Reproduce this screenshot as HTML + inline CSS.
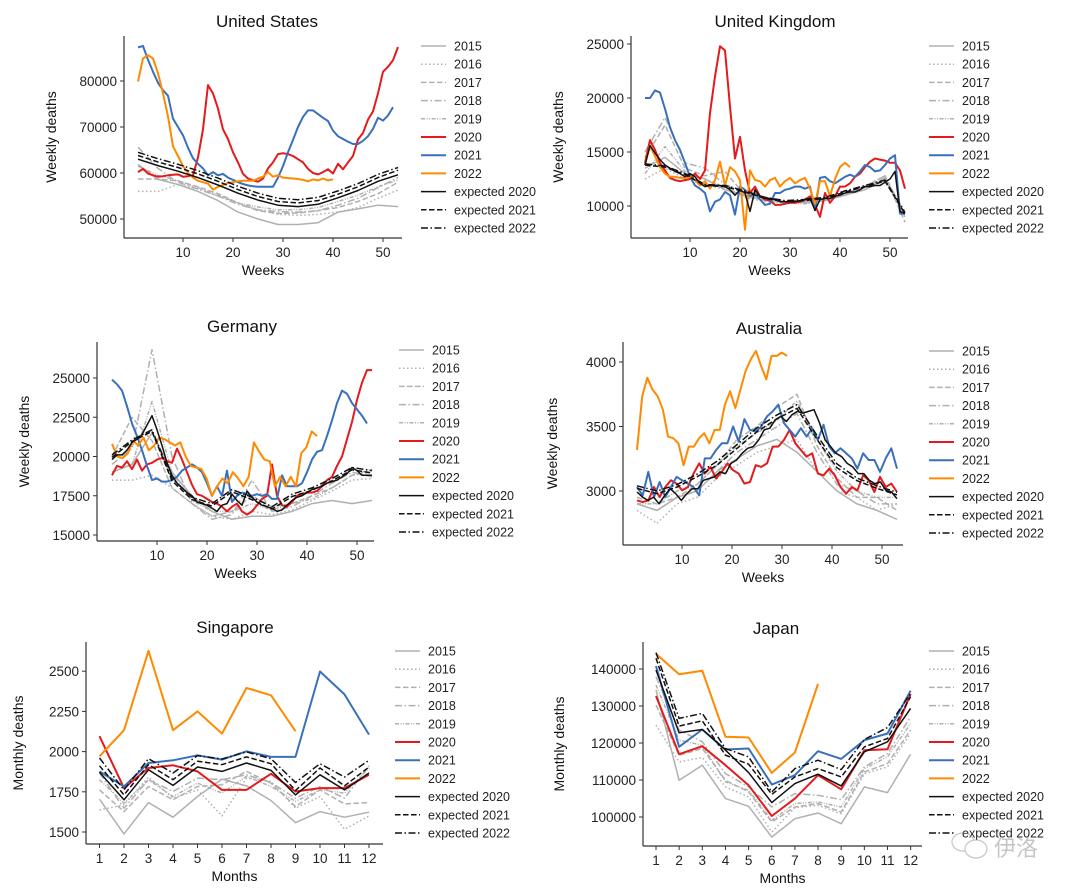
<!DOCTYPE html>
<html><head><meta charset="utf-8">
<style>
html,body{margin:0;padding:0;background:#fff;}
svg{display:block;font-family:"Liberation Sans","Noto Sans CJK SC",sans-serif;}
</style></head>
<body>
<svg id="fig" width="1080" height="895" viewBox="0 0 1080 895" xmlns="http://www.w3.org/2000/svg"></svg>
<script>
// ---------- shared ----------
const legendLabels = ['2015','2016','2017','2018','2019','2020','2021','2022','expected 2020','expected 2021','expected 2022'];
const monthTicks = [1,2,3,4,5,6,7,8,9,10,11,12];
const weekTicks = [10,20,30,40,50];

// ---------- United States (weekly) ----------
const usTicks = [50000,60000,70000,80000];
const us2015 = [61900,58600,57500,56000,54000,51500,50000,48800,48800,49200,51500,52200,53000,52700];
const us2016 = [56000,56000,57500,56500,55000,53500,52000,51000,50800,51000,51500,52500,54500,56300];
const us2017 = [58700,58700,58300,57000,55500,53500,51800,51200,51300,51800,52500,53800,55500,58000];
const us2018 = [65600,61000,58000,56500,55000,53200,52000,51600,51500,51800,53000,54500,56800,59000];
const us2019 = [61500,59500,58300,56800,55200,53500,52600,52000,52000,52500,53800,55200,57000,58500];
const us2020 = [60200,60900,59900,59500,59200,59300,59500,59600,59700,59200,59300,59500,63400,69500,79100,77300,74000,69500,67400,64500,62300,59800,58800,58400,58100,58800,61000,62300,64100,64300,64100,63700,63000,62300,60900,60000,59700,60200,60800,59900,62000,60800,62300,63700,67300,68700,71600,73400,77300,82000,83100,84500,87400];
const us2021 = [87300,87600,84600,82000,79600,78000,76800,71800,70000,68200,65500,63200,62000,61000,59500,60200,59500,59800,59000,58500,58000,57600,57300,57100,57000,57000,57000,57000,59000,61500,64500,67200,70000,72200,73600,73600,72800,72000,71300,69200,68000,67400,66800,66300,66300,67000,68000,69600,72000,71400,72500,74300];
const us2022 = [79900,84900,85600,84900,81700,77300,72300,65800,63700,61500,60000,59000,58300,58000,57700,56400,57000,57400,57800,58000,58200,58300,58300,58300,58800,59200,60200,59200,59500,59000,58900,58800,58700,58500,58200,58600,58400,58800,58400,58600];
const usExp2020 = [63000,61600,60400,59000,57400,55600,54100,53000,52700,53200,54600,56200,58200,59600];
const usExp2021 = [63800,62400,61200,59800,58200,56400,54900,53800,53500,54000,55400,57000,59000,60600];
const usExp2022 = [64500,63100,61900,60500,58900,57100,55600,54500,54200,54700,56100,57700,59700,61200];

// ---------- United Kingdom ----------
const ukTicks = [10000,15000,20000,25000];
const uk2015 = [13500,14500,13000,12500,11500,11000,10500,10400,10300,10500,11000,11500,12500,9000];
const uk2016 = [12500,13500,12500,12000,11500,10800,10400,10300,10300,10500,11000,11800,12500,9500];
const uk2017 = [14500,17500,13500,12800,13200,11000,10600,10400,10500,10600,11200,11800,12800,8500];
const uk2018 = [15000,18200,14000,13500,12000,11200,10800,10400,10400,10600,11000,11700,12600,9000];
const uk2019 = [13000,15500,13200,12500,11700,10900,10500,10300,10200,10500,11000,11800,12800,9200];
const uk2020 = [14000,16100,15200,14000,13300,12600,12400,12300,12400,12500,13000,12500,13300,18600,22000,24800,24400,19200,14400,16400,13300,11200,11800,10900,10600,10500,10100,10100,10200,10300,10300,10400,10600,10900,10100,9000,11200,10300,10900,11800,11800,12100,12700,13000,13600,14100,14400,14300,14200,14000,14000,13300,11600];
const uk2021 = [20000,20000,20700,20500,19000,17300,16100,15200,14000,12700,11900,11600,11200,9500,10400,10600,11300,11000,9200,11800,11500,10900,11200,10600,10100,10200,11200,11200,11500,11600,11800,11800,11600,11800,9600,12600,12700,12300,12100,12400,12700,12900,12700,13200,13800,13600,13200,13300,13800,14400,14700,9300,9300];
const uk2022 = [13800,15600,14600,13600,13000,12700,12700,12600,12600,12700,12400,11900,12300,11600,12400,14100,11900,13600,13200,12400,7800,13300,12400,12300,11800,12400,12600,11800,12300,12600,12100,12400,12600,11600,10200,12300,12300,10900,12500,13600,14000,13600];
const ukExp2020 = [13800,15600,14900,14300,13800,13500,13200,13000,12700,13000,12700,12100,11800,11900,11900,11900,11800,11500,11000,11500,11200,9500,11500,10900,10700,10700,10600,10400,10400,10400,10400,10500,10600,10700,9600,10600,10700,10700,10900,11000,11200,11300,11300,11500,11800,11800,11900,11900,12200,12500,13200,9500,9300];
const ukExp2021 = [13800,13600,12900,11900,11800,11300,10700,10400,10500,10700,11300,11800,12300,9300];
const ukExp2022 = [13900,13700,13000,12000,11900,11400,10800,10500,10600,10800,11400,11900,12400,9400];

// ---------- Germany ----------
const deTicks = [15000,17500,20000,22500,25000];
const de2015 = [19000,19500,21500,19000,17500,16500,16000,16200,16200,16500,17000,17200,17000,17200];
const de2016 = [18500,18500,18800,18000,17000,16200,16000,16500,16300,16600,17200,17800,18500,18600];
const de2017 = [20000,22500,21000,18000,17000,16200,16500,17500,16800,17000,17500,18000,18800,19000];
const de2018 = [19500,20500,26800,20000,17000,16000,16300,18500,16500,16800,17500,18300,19000,18700];
const de2019 = [19000,19500,23500,19000,17200,16500,16500,17000,16600,17000,17300,18000,18800,19200];
const de2020 = [18800,19400,19300,19700,19200,19800,19100,19500,19600,19800,19900,19700,19600,20500,19800,19000,18200,17600,17500,17300,17100,17000,16800,16500,16800,17000,16500,16300,16500,16900,17300,17500,19500,17500,16900,16800,17100,17500,17600,17700,17700,17800,18100,18500,18700,19400,20000,21100,22200,23600,24700,25500,25500];
const de2021 = [24900,24600,24200,23200,22100,21300,20400,19400,18500,18600,18400,18400,18500,18700,19100,19300,19500,19300,19000,18300,17500,18100,17500,19100,17100,17500,17700,17600,17500,17600,17500,17600,17300,17300,18800,18100,18100,18100,18300,19000,19800,20300,20400,21300,22300,23400,24200,24000,23400,23000,22600,22100];
const de2022 = [20800,20000,19900,20200,21000,20700,21200,20400,20700,21200,21100,20900,20700,20900,20000,19400,19300,19200,18600,17500,18100,18600,18300,19000,18600,18100,18700,20900,20300,19800,19700,18100,18700,18100,18700,18100,20200,20600,21600,21300];
const deExp2020 = [19800,20100,20100,20400,20900,21100,21400,22000,22600,21700,20700,19600,18800,18300,18000,17700,17500,17100,17000,16900,16700,16500,16900,17000,17600,17200,16900,17800,17400,17100,16900,16800,16700,16500,16600,16900,17200,17400,17500,17700,17900,18000,18100,18300,18400,18500,18700,18900,19300,19100,18800,18800,18800];
const deExp2021 = [19950,20950,21600,18450,17250,16850,17750,17250,16650,17450,17850,18450,19150,18950];
const deExp2022 = [20100,21050,21700,18600,17400,17000,17900,17400,16800,17600,18000,18600,19300,19100];

// ---------- Australia ----------
const auTicks = [3000,3500,4000];
const au2015 = [2900,2850,2950,3000,3150,3250,3350,3400,3300,3150,3000,2900,2850,2780];
const au2016 = [2850,2750,2900,2950,3100,3200,3300,3350,3400,3150,3000,2950,2850,2900];
const au2017 = [2950,2900,2950,3050,3200,3400,3500,3650,3750,3350,3100,2950,2950,2850];
const au2018 = [2900,2850,2950,3000,3150,3300,3400,3500,3600,3300,3050,3000,2900,2900];
const au2019 = [2900,2900,3000,3050,3200,3350,3450,3550,3700,3400,3150,3000,2950,2950];
const au2020 = [2927,2914,2927,3031,2953,3031,3083,3057,3005,3031,3135,3214,3135,3187,3096,3148,3214,3161,3135,3057,3070,3200,3187,3214,3344,3344,3396,3474,3370,3318,3266,3292,3135,3122,3174,3122,3031,2979,3031,3005,3122,3083,2992,3109,3031,3057,2992];
const au2021 = [3031,2966,3148,2953,3070,2953,3031,3109,3083,3057,3031,2966,3253,3253,3318,3370,3370,3500,3383,3557,3474,3461,3500,3578,3617,3669,3526,3474,3422,3487,3422,3487,3396,3513,3344,3292,3331,3292,3253,3174,3292,3240,3240,3148,3253,3331,3174];
const au2022 = [3318,3734,3878,3786,3734,3630,3422,3409,3370,3200,3344,3344,3409,3448,3370,3474,3474,3669,3773,3643,3786,3930,4021,4086,3969,3865,4047,4047,4073,4047];
const auExp2020 = [2992,2953,2927,2953,2901,2966,3018,2979,2927,2979,3018,3018,3083,3096,3109,3148,3135,3214,3240,3292,3331,3344,3396,3474,3487,3552,3578,3539,3591,3617,3604,3617,3630,3526,3396,3344,3292,3266,3214,3187,3135,3135,3083,3057,3070,3005,2992,2940];
const auExp2021 = [3020,2980,3030,3110,3200,3330,3460,3560,3640,3400,3180,3080,3020,2970];
const auExp2022 = [3040,3000,3050,3130,3230,3360,3490,3590,3670,3430,3210,3100,3040,2990];

// ---------- Singapore (monthly) ----------
const sgTicks = [1500,1750,2000,2250,2500];
const sg2015 = [1704,1488,1683,1592,1721,1829,1787,1696,1558,1627,1592,1623];
const sg2016 = [1637,1669,1842,1710,1762,1600,1835,1815,1648,1721,1517,1600];
const sg2017 = [1762,1627,1783,1700,1783,1794,1877,1804,1658,1762,1675,1683];
const sg2018 = [1867,1648,1825,1752,1835,1825,1856,1808,1710,1783,1710,1912];
const sg2019 = [1825,1679,1825,1721,1804,1742,1846,1783,1690,1762,1742,1898];
const sg2020 = [2096,1773,1898,1915,1877,1762,1762,1862,1752,1773,1773,1856];
const sg2021 = [1877,1783,1929,1946,1977,1950,2002,1967,1967,2498,2356,2106];
const sg2022 = [1971,2133,2627,2133,2250,2112,2396,2350,2127];
const sgExp2020 = [1871,1700,1887,1790,1904,1877,1929,1883,1731,1856,1762,1867];
const sgExp2021 = [1912,1731,1919,1825,1940,1919,1967,1925,1758,1898,1787,1904];
const sgExp2022 = [1960,1762,1956,1867,1975,1954,1998,1956,1808,1925,1842,1946];

// ---------- Japan (monthly) ----------
const jpTicks = [100000,110000,120000,130000,140000];
const jp2015 = [134310,109930,114000,104970,102890,94580,99550,101080,98190,108130,106590,116980];
const jp2016 = [124830,114900,116070,108130,105420,95940,102530,103160,100900,111740,113550,122580];
const jp2017 = [130250,116710,118510,109930,106770,98650,102710,103610,101350,112190,114450,123480];
const jp2018 = [137930,123480,120320,111740,108130,102710,106320,105870,104700,113550,117160,127090];
const jp2019 = [135670,120770,119410,109480,107220,99100,103610,104060,102710,113090,116250,125280];
const jp2020 = [132690,116980,119140,114000,108580,100270,104970,111290,107500,118060,118330,133230];
const jp2021 = [140820,118960,123660,118240,118510,108760,111290,117790,115710,120770,122580,134130];
const jp2022 = [144070,138560,139550,121670,121490,111920,117430,135940];
const jpExp2020 = [139730,122760,123660,118060,112010,103880,109030,111560,108400,117610,120320,129350];
const jpExp2021 = [142890,124560,126010,116710,114270,106140,110840,113090,110840,118960,121220,132510];
const jpExp2022 = [144430,126640,127990,118510,116250,106770,113090,115350,112820,120950,124200,133410];

// ---------- rendering ----------
const NS = 'http://www.w3.org/2000/svg';
const fig = document.getElementById('fig');
const STY = [
  {c:'#b0b0b0',w:1.5,d:''},{c:'#b0b0b0',w:1.5,d:'1.5,2.5'},{c:'#b0b0b0',w:1.5,d:'5.5,2.5'},
  {c:'#b0b0b0',w:1.5,d:'7,2.5,1.5,2.5'},{c:'#b0b0b0',w:1.5,d:'4,1.5,1,1.5,1,1.5'},
  {c:'#e41a1c',w:2,d:''},{c:'#3a70bb',w:2,d:''},{c:'#ff8a00',w:2,d:''},
  {c:'#111',w:1.5,d:''},{c:'#111',w:1.5,d:'5.5,2.5'},{c:'#111',w:1.5,d:'7,2.5,1.5,2.5'}
];
function mk(tag, attrs, parent){const e=document.createElementNS(NS,tag);for(const k in attrs)e.setAttribute(k,attrs[k]);(parent||fig).appendChild(e);return e;}
function txt(s, attrs, parent){const e=mk('text',attrs,parent);e.textContent=s;return e;}

const panels = [
 {key:'united-states',title:'United States',tx:267,ty:27,L:124,R:402,T:36,B:238,
  xs:w=>133+w*5, ys:v=>219-(v-50000)*0.0046, yt:usTicks, xt:weekTicks, xlab:'Weeks', ylab:'Weekly deaths', ylx:56,
  series:[[us2015,53],[us2016,53],[us2017,53],[us2018,53],[us2019,53],[us2020,53],[us2021,52],[us2022,40],[usExp2020,53],[usExp2021,53],[usExp2022,53]],
  legX:421, legY:46},
 {key:'united-kingdom',title:'United Kingdom',tx:775,ty:27,L:631,R:908,T:36,B:238,
  xs:w=>640+w*5, ys:v=>206-(v-10000)*0.0108, yt:ukTicks, xt:weekTicks, xlab:'Weeks', ylab:'Weekly deaths', ylx:563,
  series:[[uk2015,53],[uk2016,53],[uk2017,53],[uk2018,53],[uk2019,53],[uk2020,53],[uk2021,53],[uk2022,42],[ukExp2020,53],[ukExp2021,53],[ukExp2022,53]],
  legX:929, legY:46},
 {key:'germany',title:'Germany',tx:242,ty:332,L:97,R:374,T:342,B:541,
  xs:w=>107+w*5, ys:v=>535-(v-15000)*0.0157, yt:deTicks, xt:weekTicks, xlab:'Weeks', ylab:'Weekly deaths', ylx:29,
  series:[[de2015,53],[de2016,53],[de2017,53],[de2018,53],[de2019,53],[de2020,53],[de2021,52],[de2022,42],[deExp2020,53],[deExp2021,53],[deExp2022,53]],
  legX:399, legY:350},
 {key:'australia',title:'Australia',tx:769,ty:334,L:623,R:903,T:342,B:545,
  xs:w=>632+w*5, ys:v=>491-(v-3000)*0.129, yt:auTicks, xt:weekTicks, xlab:'Weeks', ylab:'Weekly deaths', ylx:557,
  series:[[au2015,53],[au2016,53],[au2017,53],[au2018,53],[au2019,53],[au2020,53],[au2021,53],[au2022,31],[auExp2020,53],[auExp2021,53],[auExp2022,53]],
  legX:929, legY:351},
 {key:'singapore',title:'Singapore',tx:235,ty:633,L:86,R:383,T:642,B:844,
  xs:m=>99.5+(m-1)*24.5, ys:v=>832-(v-1500)*0.1608, yt:sgTicks, xt:monthTicks, xlab:'Months', ylab:'Monthly deaths', ylx:23, monthly:true,
  series:[[sg2015],[sg2016],[sg2017],[sg2018],[sg2019],[sg2020],[sg2021],[sg2022],[sgExp2020],[sgExp2021],[sgExp2022]],
  legX:395, legY:651},
 {key:'japan',title:'Japan',tx:776,ty:634,L:643,R:922,T:642,B:846,
  xs:m=>656+(m-1)*23.15, ys:v=>817-(v-100000)*0.0037, yt:jpTicks, xt:monthTicks, xlab:'Months', ylab:'Monthly deaths', ylx:564, monthly:true,
  series:[[jp2015],[jp2016],[jp2017],[jp2018],[jp2019],[jp2020],[jp2021],[jp2022],[jpExp2020],[jpExp2021],[jpExp2022]],
  legX:929, legY:651}
];

panels.forEach(p=>{
  const g = mk('g',{});
  
  
  const t = txt(p.title,{x:p.tx,y:p.ty,'text-anchor':'middle','font-size':17,fill:'#111'},g);
  
  
  // series
  const sg = mk('g',{},g);
  
  
  p.series.forEach((s,si)=>{
    const vals=s[0], n=vals.length;
    const last = p.monthly ? n : s[1];
    const pts = vals.map((v,i)=>{
      const x = p.monthly ? i+1 : 1 + (n>1 ? i*(last-1)/(n-1) : 0);
      return p.xs(x).toFixed(1)+','+p.ys(v).toFixed(1);
    }).join(' ');
    const st=STY[si];
    const pl = mk('polyline',{points:pts,fill:'none',stroke:st.c,'stroke-width':st.w,'stroke-dasharray':st.d,'stroke-linejoin':'round'},sg);
    
    
  });
  // axes
  mk('line',{x1:p.L,y1:p.T,x2:p.L,y2:p.B,stroke:'#333','stroke-width':1.2},g);
  mk('line',{x1:p.L,y1:p.B,x2:p.R,y2:p.B,stroke:'#333','stroke-width':1.2},g);
  p.yt.forEach(v=>{
    const y=p.ys(v);
    mk('line',{x1:p.L-4,y1:y,x2:p.L,y2:y,stroke:'#333','stroke-width':1},g);
    const tl = txt(String(v),{x:p.L-7,y:y+5,'text-anchor':'end','font-size':13.5,fill:'#222'},g);
    
    
  });
  p.xt.forEach(v=>{
    const x=p.xs(v);
    mk('line',{x1:x,y1:p.B,x2:x,y2:p.B+4,stroke:'#333','stroke-width':1},g);
    const tl = txt(String(v),{x:x,y:p.B+19,'text-anchor':'middle','font-size':13.5,fill:'#222'},g);
    
    
  });
  const xl = txt(p.xlab,{x:(p.L+p.R)/2,y:p.B+37,'text-anchor':'middle','font-size':14,fill:'#111'},g);
  
  
  const cy=(p.T+p.B)/2;
  const yl = txt(p.ylab,{x:p.ylx,y:cy,'text-anchor':'middle','font-size':14,fill:'#111',transform:'rotate(-90 '+p.ylx+' '+cy+')'},g);
  
  
  // legend
  const lg = mk('g',{},g);
  
  
  legendLabels.forEach((lab,i)=>{
    const y=p.legY+i*18.2, st=STY[i];
    const e = mk('g',{},lg);
    
    
    mk('line',{x1:p.legX,y1:y,x2:p.legX+25,y2:y,stroke:st.c,'stroke-width':st.w,'stroke-dasharray':st.d},e);
    txt(lab,{x:p.legX+33,y:y+4.5,'font-size':12.5,fill:'#222'},e);
  });
  fig.appendChild(g);
});

// watermark
const wm = mk('g',{opacity:0.55});


mk('ellipse',{cx:963,cy:842,rx:11,ry:9,fill:'none',stroke:'#999','stroke-width':1.2},wm);
mk('ellipse',{cx:976,cy:849,rx:11,ry:9,fill:'#fff',stroke:'#999','stroke-width':1.2},wm);
txt('伊洛',{x:994,y:856,'font-size':22,fill:'#999','font-family':'"Noto Sans CJK SC",sans-serif'},wm);
</script>
</body></html>
